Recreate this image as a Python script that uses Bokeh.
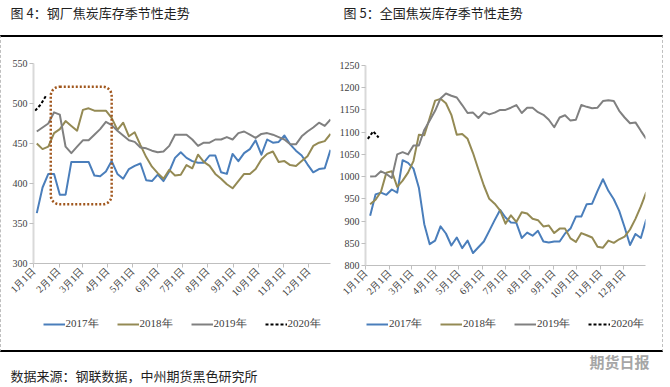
import math
from bokeh.plotting import figure
from bokeh.models import Range1d, FixedTicker, Legend, LegendItem, BoxAnnotation
from bokeh.layouts import column, row
from bokeh.embed import file_html
from bokeh.resources import INLINE
from bokeh.core.properties import value

# ---------------- data ----------------
month_labels = ["1月1日", "2月1日", "3月1日", "4月1日", "5月1日", "6月1日",
                "7月1日", "8月1日", "9月1日", "10月1日", "11月1日", "12月1日"]
month_start_days = [0, 31, 59, 90, 120, 151, 181, 212, 243, 273, 304, 334]
series_labels = ["2017年", "2018年", "2019年", "2020年"]

# weekly observations: day of year of the first week, then every 7 days
left_first_day = 4
right_first_day = 6
left_2020_days = [2, 9, 16]
right_2020_days = [3, 10, 17]

# Figure 4: steel mills coke inventory
left_2017 = [363, 395, 412, 412, 386, 386, 427, 427, 427, 427, 410, 409, 415, 428, 412, 406,
             418, 422, 425, 404, 403, 411, 403, 415, 432, 439, 432, 428, 426, 426, 435, 435,
             414, 412, 437, 428, 438, 443, 454, 436, 455, 451, 452, 460, 449, 441, 435, 424,
             414, 418, 419, 442]
left_2018 = [450, 443, 446, 463, 468, 478, 472, 466, 492, 494, 491, 491, 491, 482, 467, 476,
             459, 464, 448, 433, 421, 413, 406, 417, 410, 411, 423, 419, 436, 427, 422, 412,
             406, 399, 394, 403, 412, 412, 418, 430, 437, 440, 427, 428, 423, 422, 428, 434,
             447, 451, 453, 462]
left_2019 = [465, 470, 475, 489, 486, 446, 438, 446, 454, 454, 461, 468, 477, 473, 466, 460,
             454, 452, 445, 444, 441, 439, 440, 447, 461, 461, 461, 455, 447, 451, 451, 455,
             455, 458, 455, 463, 465, 461, 457, 462, 463, 461, 458, 455, 449, 449, 459, 465,
             470, 476, 472, 480]
left_2020 = [491, 499, 511]

# Figure 5: national coke inventory
right_2017 = [912, 960, 964, 959, 971, 964, 1037, 1031, 1018, 975, 893, 848, 856, 888, 872, 845,
              863, 839, 856, 828, 841, 854, 878, 902, 925, 908, 897, 896, 862, 874, 867, 878,
              854, 852, 854, 854, 872, 883, 910, 910, 938, 939, 968, 994, 968, 949, 923, 886,
              846, 871, 862, 904]
right_2018 = [938, 948, 966, 1009, 1012, 977, 991, 1009, 1035, 1094, 1093, 1132, 1171, 1175, 1165, 1139,
              1094, 1096, 1085, 1053, 1016, 980, 950, 939, 924, 894, 913, 898, 920, 917, 905, 902,
              888, 890, 873, 883, 883, 861, 853, 873, 868, 863, 842, 840, 856, 851, 859, 865,
              881, 905, 933, 965]
right_2019 = [1000, 1001, 1012, 1006, 997, 1050, 1055, 1050, 1070, 1070, 1105, 1126, 1148, 1176, 1187, 1182,
              1178, 1161, 1143, 1144, 1132, 1145, 1140, 1144, 1150, 1150, 1155, 1161, 1143, 1155, 1155, 1145,
              1139, 1128, 1111, 1133, 1138, 1126, 1128, 1161, 1157, 1154, 1155, 1170, 1172, 1170, 1148, 1133,
              1120, 1122, 1103, 1085]
right_2020 = [1085, 1102, 1088]

left_y_ticks = [300, 350, 400, 450, 500, 550]
right_y_ticks = [800, 850, 900, 950, 1000, 1050, 1100, 1150, 1200, 1250]

titles = ["图 4：钢厂焦炭库存季节性走势", "图 5：全国焦炭库存季节性走势"]
source_text = "数据来源：钢联数据，中州期货黑色研究所"
logo_text = "期货日报"

# highlighted period on figure 4 (late Jan - early Apr)
highlight = dict(start_day=21, end_day=95, low=374, high=521)

# ---------------- styles ----------------
COLORS = ["#4A7EBB", "#948A54", "#808080", "#000000"]
DASH_2020 = "3 2"
CJK = "Noto Sans CJK SC"
TICK_FONT = "Liberation Sans Narrow"
TEXT_COLOR = "#404040"


def weekly_days(first_day, n):
    return [first_day + 7 * i for i in range(n)]


def draw_series(p, ys, first_day, days_2020):
    days = weekly_days(first_day, len(ys[0]))
    rs = []
    for i in range(3):
        rs.append(p.line(days, ys[i], line_color=COLORS[i], line_width=2, line_join="round"))
    rs.append(p.line(days_2020, ys[3], line_color=COLORS[3], line_width=2, line_dash=DASH_2020))
    return rs


def make_panel(width, height, x_end, y_lo, y_hi, y_ticks, ys, first_day, days_2020,
               left_border, right_border, top_border, bottom_border):
    p = figure(width=width, height=height, output_backend="svg", toolbar_location=None,
               x_range=Range1d(0, x_end), y_range=Range1d(y_lo, y_hi),
               min_border_left=left_border, min_border_right=right_border,
               min_border_top=top_border, min_border_bottom=bottom_border)
    p.grid.visible = False
    p.outline_line_color = None

    p.xaxis.ticker = FixedTicker(ticks=month_start_days)
    p.xaxis.major_label_overrides = {d: lab for d, lab in zip(month_start_days, month_labels)}
    p.xaxis.major_label_orientation = math.pi / 4
    p.yaxis.ticker = FixedTicker(ticks=y_ticks)
    for ax in (p.xaxis, p.yaxis):
        ax.axis_line_color = "#BFBFBF"
        ax.axis_line_width = 1
        ax.major_tick_line_color = "#BFBFBF"
        ax.major_tick_out = 4
        ax.major_tick_in = 0
        ax.minor_tick_line_color = None
        ax.major_label_text_font = TICK_FONT
        ax.major_label_text_font_size = "10px"
        ax.major_label_text_color = TEXT_COLOR
        ax.major_label_standoff = 2
    p.yaxis.axis_line_color = "#D9D9D9"
    p.yaxis.axis_line_width = 2

    draw_series(p, ys, first_day, days_2020)
    return p


def make_legend_fig(width, height, ys, first_day, days_2020):
    # the same series are drawn here outside the visible range; only their legend shows
    f = figure(width=width, height=height, output_backend="svg", toolbar_location=None,
               x_range=Range1d(0, 1), y_range=Range1d(0, 1),
               x_axis_location=None, y_axis_location=None, min_border=0)
    f.grid.visible = False
    f.outline_line_color = None
    rs = draw_series(f, ys, first_day, days_2020)
    items = [LegendItem(label=series_labels[i], renderers=[rs[i]]) for i in range(4)]
    lg = Legend(items=items, orientation="horizontal", location="top_center",
                glyph_width=22, glyph_height=10, label_standoff=1, spacing=18,
                padding=2, margin=9, border_line_color=None, background_fill_alpha=0,
                label_text_font=TICK_FONT, label_text_font_size="11px",
                label_text_color=TEXT_COLOR)
    f.add_layout(lg, "center")
    return f


left_ys = [left_2017, left_2018, left_2019, left_2020]
right_ys = [right_2017, right_2018, right_2019, right_2020]

p1 = make_panel(334, 270, 361, 300, 550, left_y_ticks, left_ys, left_first_day, left_2020_days,
                32, 5, 26, 44)
p1.add_layout(BoxAnnotation(left=highlight["start_day"], right=highlight["end_day"],
                            bottom=highlight["low"], top=highlight["high"],
                            fill_alpha=0, line_color="#A0561C", line_alpha=1.0, line_width=2.5,
                            line_dash="2 2", border_radius=9))
p2 = make_panel(327, 270, 362, 800, 1250, right_y_ticks, right_ys, right_first_day, right_2020_days,
                30, 17, 28, 41)
leg1 = make_legend_fig(334, 43, left_ys, left_first_day, left_2020_days)
leg2 = make_legend_fig(327, 43, right_ys, right_first_day, right_2020_days)

# header
head = figure(width=670, height=35, output_backend="svg", toolbar_location=None,
              x_range=Range1d(0, 670), y_range=Range1d(0, 35),
              x_axis_location=None, y_axis_location=None, min_border=0)
head.grid.visible = False
head.outline_line_color = None
head.text(x=[10, 343], y=[23, 23], text=titles, text_font=value(CJK), text_font_size="13px",
          text_baseline="middle", text_color="#1F1F1F")

# footer
foot = figure(width=670, height=34, output_backend="svg", toolbar_location=None,
              x_range=Range1d(0, 670), y_range=Range1d(0, 34),
              x_axis_location=None, y_axis_location=None, min_border=0)
foot.grid.visible = False
foot.outline_line_color = None
foot.text(x=[10], y=[11], text=[source_text], text_font=value(CJK), text_font_size="13px",
          text_baseline="middle", text_color="#1F1F1F")
foot.text(x=[649], y=[25], text=[logo_text], text_font=value(CJK), text_font_size="15px",
          text_baseline="middle", text_align="right", text_color="#A6A6A6", text_font_style="bold")

charts = row(column(p1, leg1), column(p2, leg2),
             styles={"border-top": "2px solid #000", "border-bottom": "2px solid #000",
                     "border-left": "1px dashed #BFBFBF", "border-right": "1px dashed #BFBFBF"})
layout = column(head, charts, foot)

open("out.html", "w").write(file_html(layout, INLINE))
